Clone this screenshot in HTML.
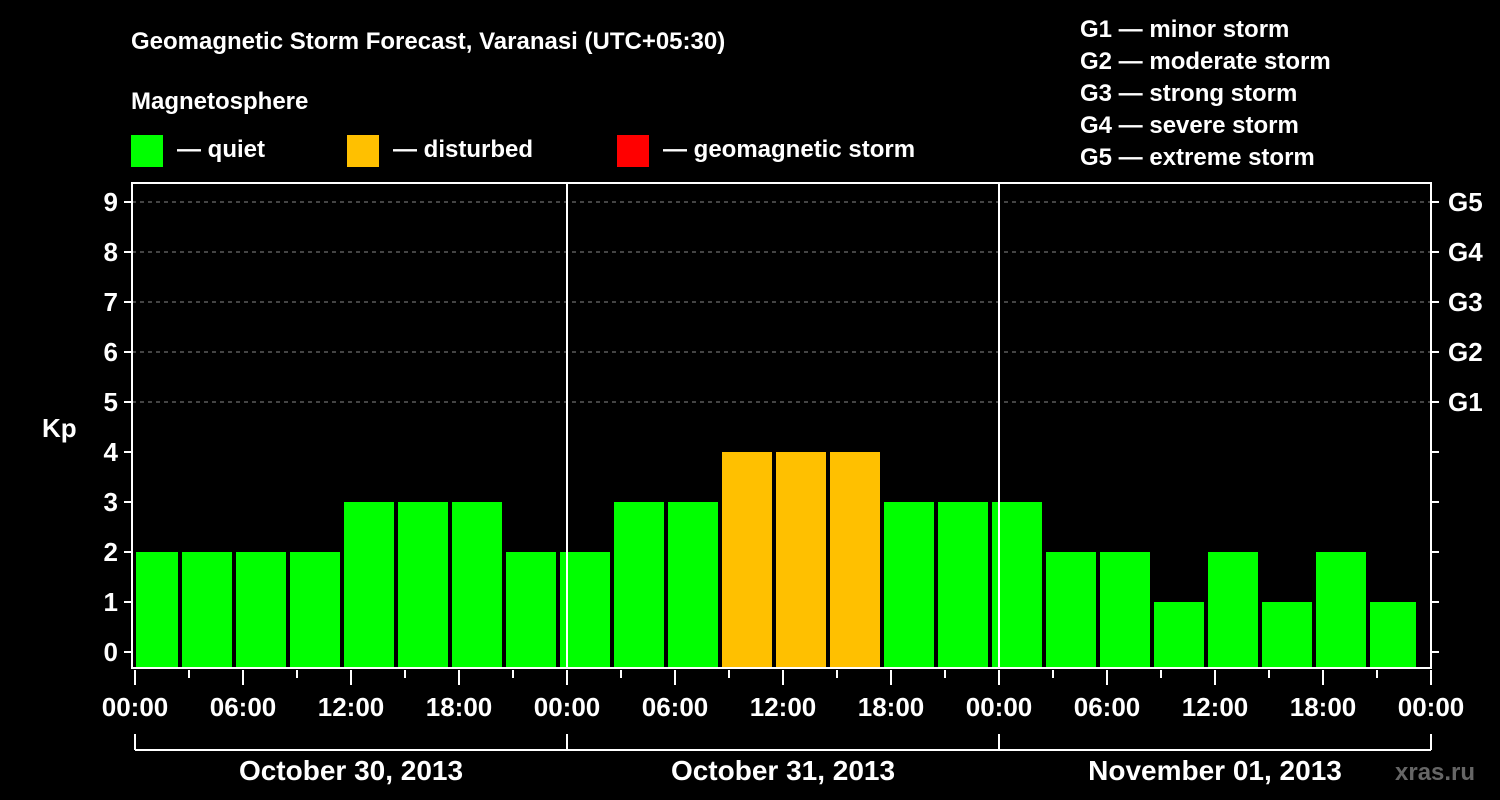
<!DOCTYPE html>
<html><head><meta charset="utf-8"><style>
html,body{margin:0;padding:0;background:#000;}
svg{display:block;font-family:"Liberation Sans",Arial,sans-serif;font-weight:bold;}
</style></head><body>
<svg id="chart" width="1500" height="800" viewBox="0 0 1500 800">
<rect x="0" y="0" width="1500" height="800" fill="#000"/>
<text x="131" y="49" fill="#fff" font-size="24">Geomagnetic Storm Forecast, Varanasi (UTC+05:30)</text>
<text x="131" y="109" fill="#fff" font-size="24">Magnetosphere</text>
<g>
<rect x="131" y="135" width="32" height="32" fill="#00ff00"/>
<text x="177" y="157" fill="#fff" font-size="24">— quiet</text>
<rect x="347" y="135" width="32" height="32" fill="#ffc000"/>
<text x="393" y="157" fill="#fff" font-size="24">— disturbed</text>
<rect x="617" y="135" width="32" height="32" fill="#ff0000"/>
<text x="663" y="157" fill="#fff" font-size="24">— geomagnetic storm</text>
</g>
<g fill="#fff" font-size="24">
<text x="1080" y="37">G1 — minor storm</text>
<text x="1080" y="69">G2 — moderate storm</text>
<text x="1080" y="101">G3 — strong storm</text>
<text x="1080" y="133">G4 — severe storm</text>
<text x="1080" y="165">G5 — extreme storm</text>
</g>
<text x="42" y="437" fill="#fff" font-size="26">Kp</text>
<text x="1395" y="780" fill="#666" font-size="24">xras.ru</text>
<g id="grid"></g><g id="bars"></g><g id="axes"></g>
</svg>
<script>
const kpValues=[2,2,2,2,3,3,3,2,2,3,3,4,4,4,3,3,3,2,2,1,2,1,2,1,2];
const barStartHours=[-0.5,2.5,5.5,8.5,11.5,14.5,17.5,20.5,23.5,26.5,29.5,32.5,35.5,38.5,41.5,44.5,47.5,50.5,53.5,56.5,59.5,62.5,65.5,68.5,71.5];
const yTicks=[0,1,2,3,4,5,6,7,8,9];
const gLabels=["G1","G2","G3","G4","G5"];
const xTickLabels=["00:00","06:00","12:00","18:00","00:00","06:00","12:00","18:00","00:00","06:00","12:00","18:00","00:00"];
const dayLabels=["October 30, 2013","October 31, 2013","November 01, 2013"];
const NS="http://www.w3.org/2000/svg";
const X0=135,PXH=18,Y0=652,PXK=50,L=132,R=1431,T=183,B=668;
const xs=h=>X0+h*PXH, ys=k=>Y0-k*PXK;
function mk(tag,attrs,parent){const e=document.createElementNS(NS,tag);for(const k in attrs)e.setAttribute(k,attrs[k]);parent.appendChild(e);return e;}
const grid=document.getElementById('grid'),bars=document.getElementById('bars'),axes=document.getElementById('axes');
for(let k=5;k<=9;k++){const l=mk('line',{x1:L,x2:R,y1:ys(k),y2:ys(k),stroke:'#888','stroke-dasharray':'4,4','stroke-width':1},grid);

}
kpValues.forEach((v,i)=>{let a=Math.max(xs(barStartHours[i])+2,L+4),b=Math.min(xs(barStartHours[i]+3)-2,R-15);
const col=v>=5?'#ff0000':(v>=4?'#ffc000':'#00ff00');
const r=mk('rect',{x:a,y:ys(v),width:b-a,height:B-ys(v),fill:col},bars);

});
// day separators
[24,48].forEach(h=>{const l=mk('line',{x1:xs(h),x2:xs(h),y1:T,y2:B,stroke:'#fff','stroke-width':2},axes);

});
const fr=mk('rect',{x:L,y:T,width:R-L,height:B-T,fill:'none',stroke:'#fff','stroke-width':2},axes);


yTicks.forEach(k=>{mk('line',{x1:L-8,x2:L,y1:ys(k),y2:ys(k),stroke:'#fff','stroke-width':2},axes);
mk('line',{x1:R,x2:R+8,y1:ys(k),y2:ys(k),stroke:'#fff','stroke-width':2},axes);
const t=mk('text',{x:L-14,y:ys(k)+9,fill:'#fff','font-size':26,'text-anchor':'end'},axes);t.textContent=k;

});
gLabels.forEach((g,i)=>{const t=mk('text',{x:1448,y:ys(5+i)+9,fill:'#fff','font-size':26},axes);t.textContent=g;

});
for(let h=0;h<=72;h+=3){const major=h%6===0;mk('line',{x1:xs(h),x2:xs(h),y1:B+2,y2:B+(major?17:10),stroke:'#fff','stroke-width':2},axes);}
xTickLabels.forEach((s,i)=>{const t=mk('text',{x:xs(i*6),y:716,fill:'#fff','font-size':26,'text-anchor':'middle'},axes);t.textContent=s;

});
mk('line',{x1:xs(0),x2:xs(72),y1:750,y2:750,stroke:'#fff','stroke-width':2},axes);
[0,24,48,72].forEach(h=>mk('line',{x1:xs(h),x2:xs(h),y1:734,y2:750,stroke:'#fff','stroke-width':2},axes));
dayLabels.forEach((s,i)=>{const t=mk('text',{x:xs(i*24+12),y:780,fill:'#fff','font-size':28,'text-anchor':'middle'},axes);t.textContent=s;

});
</script>
</body></html>
